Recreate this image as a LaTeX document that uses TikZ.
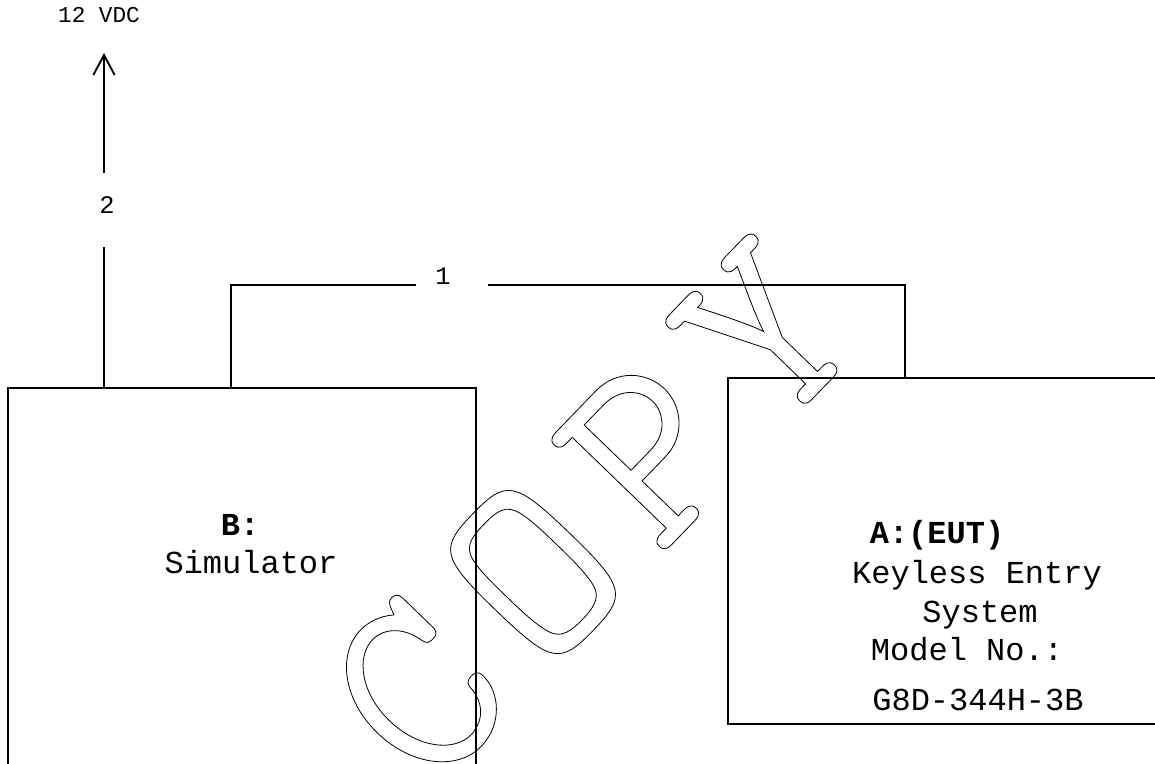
\documentclass[tikz,border=0pt]{standalone}
\usepackage{fontspec}
\setmainfont{Liberation Mono}
\newfontfamily\markfont[LetterSpace=11.6]{Latin Modern Mono}
\usetikzlibrary{arrows.meta}
\newcommand\hollowtext[1]{\special{pdf:literal direct 1 Tr 0.6 w}#1\special{pdf:literal direct 0 Tr}}

\begin{document}
\begin{tikzpicture}[x=0.75pt, y=-0.75pt,
	unit/.style={draw, line width=0.8pt, inner sep=0pt},
	txt/.style={anchor=base, inner sep=0pt, font=\fontsize{24}{28}\selectfont},
	wirelbl/.style={anchor=base, inner sep=0pt, font=\fontsize{19}{22}\selectfont},
	wire/.style={line width=0.9pt},
	pwr/.style={line width=1.4pt}]
				\useasboundingbox (0,0) rectangle (1155,763);
				\clip (0,0) rectangle (1155,763);

				% units
				\node [unit, minimum width=351pt, minimum height=309pt] (simB) at (242,594) {};
				\node [txt] (simBa) at (240,535) {\bfseries B:};
				\node [txt] (simBb) at (251,573) {Simulator};

				\node [unit, minimum width=354pt, minimum height=259.5pt] (eut) at (964,551) {};
				\node [txt] (euta) at (937,543) {\bfseries A:(EUT)};
				\node [txt] (eutb) at (977,583) {Keyless Entry};
				\node [txt] (eutc) at (980,622) {System};
				\node [txt] (eutd) at (967,660) {Model No.:};
				\node [txt] (eute) at (978,710) {G8D-344H-3B};

				% cable 2: power
				\node [wirelbl] (lbl2) at (107,213) {2};
				\node [anchor=base, inner sep=0pt, font=\fontsize{17}{20}\selectfont] (vdc) at (99,23) {12 VDC};
				\coordinate (p2low) at (104,247);
				\coordinate (p2high) at (104,173);
				\coordinate (p2tip) at (104,53);
				\draw [pwr] (simB.north -| p2low) -- (p2low);
				\draw [pwr, -{Straight Barb[length=15pt, width=16pt]}] (p2high) -- (p2tip);

				% cable 1: simulator to EUT
				\node [wirelbl] (lbl1) at (443,284) {1};
				\coordinate (w1a) at (231,285);
				\coordinate (w1b) at (416,285);
				\coordinate (w1c) at (488,285);
				\coordinate (w1d) at (905,285);
				\draw [wire] (simB.north -| w1a) -- (w1a) -- (w1b);
				\draw [wire] (w1c) -- (w1d) -- (w1d |- eut.north);

				% watermark
				\node [inner sep=0pt, rotate=46, font=\markfont\fontsize{198}{206}\selectfont] (mark) at (591,512) {\hollowtext{COPY}};
\end{tikzpicture}
\end{document}
